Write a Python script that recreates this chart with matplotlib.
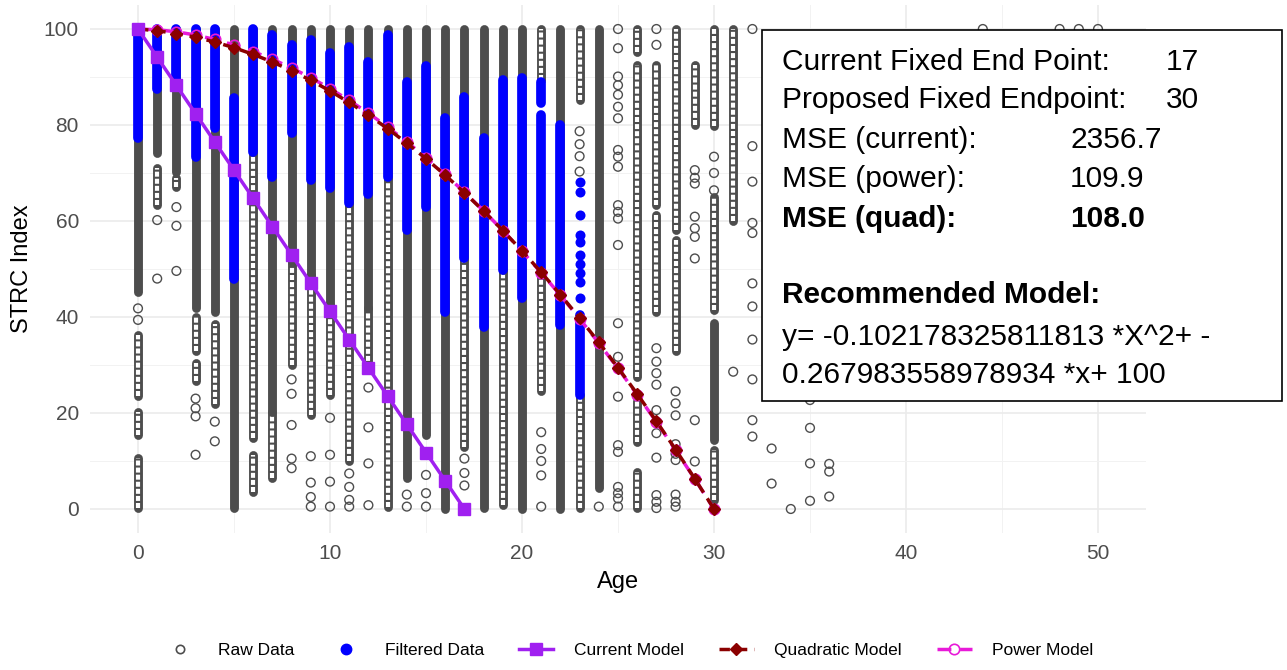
import matplotlib
matplotlib.use('Agg')
import matplotlib.pyplot as plt
from matplotlib.lines import Line2D
from matplotlib.patches import Rectangle

plt.rcParams['font.family'] = ['Liberation Sans', 'DejaVu Sans']

# ---- model curves (values at each integer age) ----
model_age = list(range(0, 31))
current_age = list(range(0, 18))
current_vals = [100, 94.12, 88.24, 82.35, 76.47, 70.59, 64.71, 58.82, 52.94, 47.06,
                41.18, 35.29, 29.41, 23.53, 17.65, 11.76, 5.88, 0]
quad_vals = [100, 99.63, 99.06, 98.28, 97.29, 96.11, 94.71, 93.12, 91.32, 89.31,
             87.10, 84.69, 82.07, 79.25, 76.22, 72.99, 69.55, 65.91, 62.07, 58.02,
             53.77, 49.31, 44.65, 39.78, 34.71, 29.44, 23.96, 18.28, 12.39, 6.30, 0]
power_vals = [100, 99.84, 99.42, 98.74, 97.82, 96.68, 95.30, 93.70, 91.88, 89.85,
              87.60, 85.13, 82.47, 79.59, 76.50, 73.21, 69.71, 66.01, 62.11, 58.02,
              53.72, 49.22, 44.53, 39.64, 34.56, 29.28, 23.81, 18.14, 12.29, 6.24, 0]

# ---- raw data: tightly packed runs of points (age, low, high) ----
raw_dense = [(0, 45.3, 100), (1, 74.1, 100), (2, 70.3, 100), (3, 41.8, 100),
             (4, 41.1, 100), (5, 0.2, 100), (6, 74.4, 100), (7, 20.3, 100),
             (8, 51.5, 100), (9, 48.7, 100), (10, 42.5, 100), (11, 63.7, 100),
             (12, 41.8, 100), (13, 69.0, 100), (14, 6.4, 100), (15, 15.4, 100),
             (16, 0.0, 100), (17, 52.2, 100), (18, 0.3, 100), (19, 49.8, 100),
             (20, 0.0, 100), (22, 0.0, 100), (24, 4.3, 100), (30, 14.3, 38.7)]

# looser runs, individual circles still visible
raw_loose = [(0, 23.5, 36.2), (0, 15.4, 20.3), (0, 0.2, 10.6), (1, 63.3, 71.0),
             (2, 67.0, 69.0), (3, 33.0, 40.0), (3, 26.6, 30.5), (4, 21.8, 38.6),
             (6, 14.8, 74.4), (6, 3.6, 11.3), (7, 6.4, 20.3), (8, 30.0, 51.5),
             (9, 19.6, 48.7), (10, 23.8, 42.5), (11, 9.9, 63.7), (12, 29.3, 41.8),
             (13, 0.5, 69.0), (17, 13.0, 52.2), (19, 0.8, 49.8), (21, 89.4, 100),
             (21, 24.6, 49.8), (23, 85.2, 100), (23, 0.3, 23.8), (26, 95.3, 100),
             (26, 27.6, 92.5), (26, 14.0, 22.4), (26, 0.2, 7.8), (27, 63.3, 92.5),
             (27, 41.1, 61.2), (28, 58.1, 100), (28, 33.0, 56.0), (29, 80.0, 92.5),
             (30, 79.7, 100), (30, 41.5, 65.0), (30, 1.9, 12.3), (31, 60.0, 100)]

# isolated raw points
raw_single = [
    (0, [41.8, 39.4]),
    (1, [60.2, 48.0]),
    (2, [62.9, 59.0, 49.6]),
    (3, [23.0, 21.0, 19.3, 11.3]),
    (4, [18.2, 14.1]),
    (8, [27.0, 24.0, 17.5, 10.5, 8.5]),
    (9, [11.0, 5.5, 2.5, 0.5]),
    (10, [19.0, 11.3, 5.7, 0.5]),
    (11, [7.4, 4.6, 1.9, 0.5]),
    (12, [25.3, 17.0, 9.5, 0.8]),
    (14, [3.0, 0.5]),
    (15, [11.3, 7.1, 3.3, 0.5]),
    (17, [10.5, 7.5, 4.9]),
    (21, [16.0, 12.5, 10.0, 7.0, 0.5]),
    (23, [78.7, 76.0, 73.5, 70.3]),
    (24, [0.5]),
    (25, [100, 96.0, 90.1, 88.3, 86.3, 83.8, 81.4, 74.8, 73.4, 71.3, 63.3, 61.9,
          60.5, 55.0, 38.7, 31.7, 23.4, 13.3, 11.9, 4.6, 3.3, 2.2, 0.5]),
    (27, [100, 96.7, 33.5, 30.7, 28.3, 25.9, 20.6, 15.8, 10.7, 2.9, 1.5, 0.2]),
    (28, [24.5, 22.0, 19.5, 13.5, 11.5, 10.2, 3.0, 1.5, 0.5]),
    (29, [70.6, 69.0, 67.8, 60.9, 58.5, 56.7, 52.2, 18.5, 9.9]),
    (30, [73.4, 70.0, 66.4, 0.0]),
    (31, [28.6]),
    (32, [100, 75.6, 68.2, 59.6, 57.5, 47.0, 42.2, 35.3, 27.0, 18.5, 15.1]),
    (33, [12.6, 5.3]),
    (34, [0.0]),
    (35, [22.7, 16.9, 9.5, 1.7]),
    (36, [9.4, 7.8, 2.6]),
    (44, [100]), (48, [100]), (49, [100]), (50, [100]),
]

# ---- filtered data ----
filt_dense = [(0, 77.2, 100), (1, 87.5, 100), (2, 88.0, 100), (3, 73.4, 100),
              (4, 79.3, 100), (5, 48.0, 85.6), (6, 74.4, 100), (7, 69.1, 98.7),
              (8, 78.3, 96.7), (9, 68.5, 97.7), (10, 66.8, 94.9), (11, 63.7, 96.3),
              (12, 65.7, 93.2), (13, 69.1, 98.7), (14, 58.2, 89.0), (15, 63.0, 92.2),
              (16, 41.1, 81.4), (17, 52.2, 85.9), (18, 38.0, 77.2), (19, 49.8, 89.4),
              (20, 44.0, 89.7), (21, 84.5, 89.0), (21, 49.8, 82.1), (22, 38.3, 79.9),
              (23, 23.8, 40.4)]
filt_single = [(23, [68.2, 66.1, 61.2, 57.1, 55.7, 52.9, 51.0, 49.2, 47.3, 43.9])]

grey = '#4d4d4d'
blue = '#0000ff'
purple = '#a020f0'
darkred = '#8b0000'
magenta = '#e81ad8'

fig = plt.figure(figsize=(12.87, 6.70), dpi=100)
ax = fig.add_axes([90 / 1287, 1 - 533 / 670, (1146 - 90) / 1287, (533 - 5) / 670])


def runs(rows, color, lw, z, ls='solid', cap='round'):
    lc = ax.vlines([r[0] for r in rows], [r[1] for r in rows], [r[2] for r in rows],
                   colors=color, linewidth=lw, linestyles=ls, zorder=z)
    lc.set_capstyle(cap)


def singles(groups, **kw):
    xs = [a for a, vals in groups for _ in vals]
    ys = [v for a, vals in groups for v in vals]
    ax.scatter(xs, ys, **kw)


# raw data (stacked open circles)
runs(raw_loose, grey, 6.4, 2.0)
runs(raw_loose, 'white', 3.0, 2.1, ls=(0, (1.2, 0.5)), cap='butt')
runs(raw_dense, grey, 6.4, 2.2)
singles(raw_single, s=40, facecolors='none', edgecolors=grey, linewidths=1.0, zorder=2.3)

# filtered data
runs(filt_dense, blue, 7.0, 3)
singles(filt_single, s=52, color=blue, linewidths=0, zorder=3)

# models
ax.plot(current_age, current_vals, color=purple, lw=2.5, marker='s', ms=8.5, zorder=6)
ax.plot(model_age, power_vals, color=magenta, lw=2.5, ls=(0, (4, 2.5)), marker='o',
        ms=7.5, mfc='none', mec=magenta, mew=1.2, zorder=4)
ax.plot(model_age, quad_vals, color=darkred, lw=2.5, ls=(0, (3, 2)), marker='D',
        ms=6.5, zorder=5)

# theme_minimal look
ax.set_xlim(-2.5, 52.5)
ax.set_ylim(-5, 105)
ax.set_xticks([0, 10, 20, 30, 40, 50])
ax.set_yticks([0, 20, 40, 60, 80, 100])
ax.set_xticks([5, 15, 25, 35, 45], minor=True)
ax.set_yticks([10, 30, 50, 70, 90], minor=True)
ax.grid(True, which='major', color='#ebebeb', lw=1.2, zorder=0)
ax.grid(True, which='minor', color='#f2f2f2', lw=0.7, zorder=0)
ax.set_axisbelow(True)
for sp in ax.spines.values():
    sp.set_visible(False)
ax.tick_params(which='both', length=0)
ax.tick_params(axis='both', labelsize=15, labelcolor='#4d4d4d', pad=8)
ax.set_xlabel('Age', fontsize=17, labelpad=6)
ax.set_ylabel('STRC Index', fontsize=17, labelpad=8)

# legend
handles = [
    Line2D([], [], ls='none', marker='o', mfc='none', mec=grey, ms=6, mew=1.2),
    Line2D([], [], ls='none', marker='o', color=blue, ms=7.5),
    Line2D([], [], color=purple, lw=2.5, marker='s', ms=8.5),
    Line2D([], [], color=darkred, lw=2.5, ls=(0, (3, 2)), marker='D', ms=6.5),
    Line2D([], [], color=magenta, lw=2.5, ls=(0, (4, 2.5)), marker='o', ms=7.5,
           mfc='none', mec=magenta, mew=1.2),
]
labels = ['Raw Data', 'Filtered Data', 'Current Model', 'Quadratic Model', 'Power Model']
fig.legend(handles, labels, loc='lower center', ncol=5, frameon=False, fontsize=12.5,
           bbox_to_anchor=(0.488, -0.005), handlelength=2.0, columnspacing=2.0,
           handletextpad=1.2)

# summary box
fig.patches.append(Rectangle((762 / 1287, 1 - 401 / 670), 520 / 1287, 371 / 670,
                             transform=fig.transFigure, facecolor='white',
                             edgecolor='black', lw=1.2, zorder=5))
fs = 21.5
box_rows = [
    (70, 'Current Fixed End Point:', '17', 1166, 'normal'),
    (108, 'Proposed Fixed Endpoint:', '30', 1166, 'normal'),
    (148, 'MSE (current):', '2356.7', 1070, 'normal'),
    (187, 'MSE (power):', '109.9', 1070, 'normal'),
    (227, 'MSE (quad):', '108.0', 1070, 'bold'),
]
for yb, lab, val, xv, wt in box_rows:
    fig.text(782 / 1287, 1 - yb / 670, lab, fontsize=fs, fontweight=wt,
             va='baseline', zorder=6)
    fig.text(xv / 1287, 1 - yb / 670, val, fontsize=fs, fontweight=wt,
             va='baseline', zorder=6)
fig.text(782 / 1287, 1 - 303 / 670, 'Recommended Model:', fontsize=fs,
         fontweight='bold', va='baseline', zorder=6)
fig.text(782 / 1287, 1 - 345 / 670, 'y= -0.102178325811813 *X^2+ -', fontsize=fs,
         va='baseline', zorder=6)
fig.text(782 / 1287, 1 - 383 / 670, '0.267983558978934 *x+ 100', fontsize=fs,
         va='baseline', zorder=6)

fig.savefig('out.png', dpi=100)
